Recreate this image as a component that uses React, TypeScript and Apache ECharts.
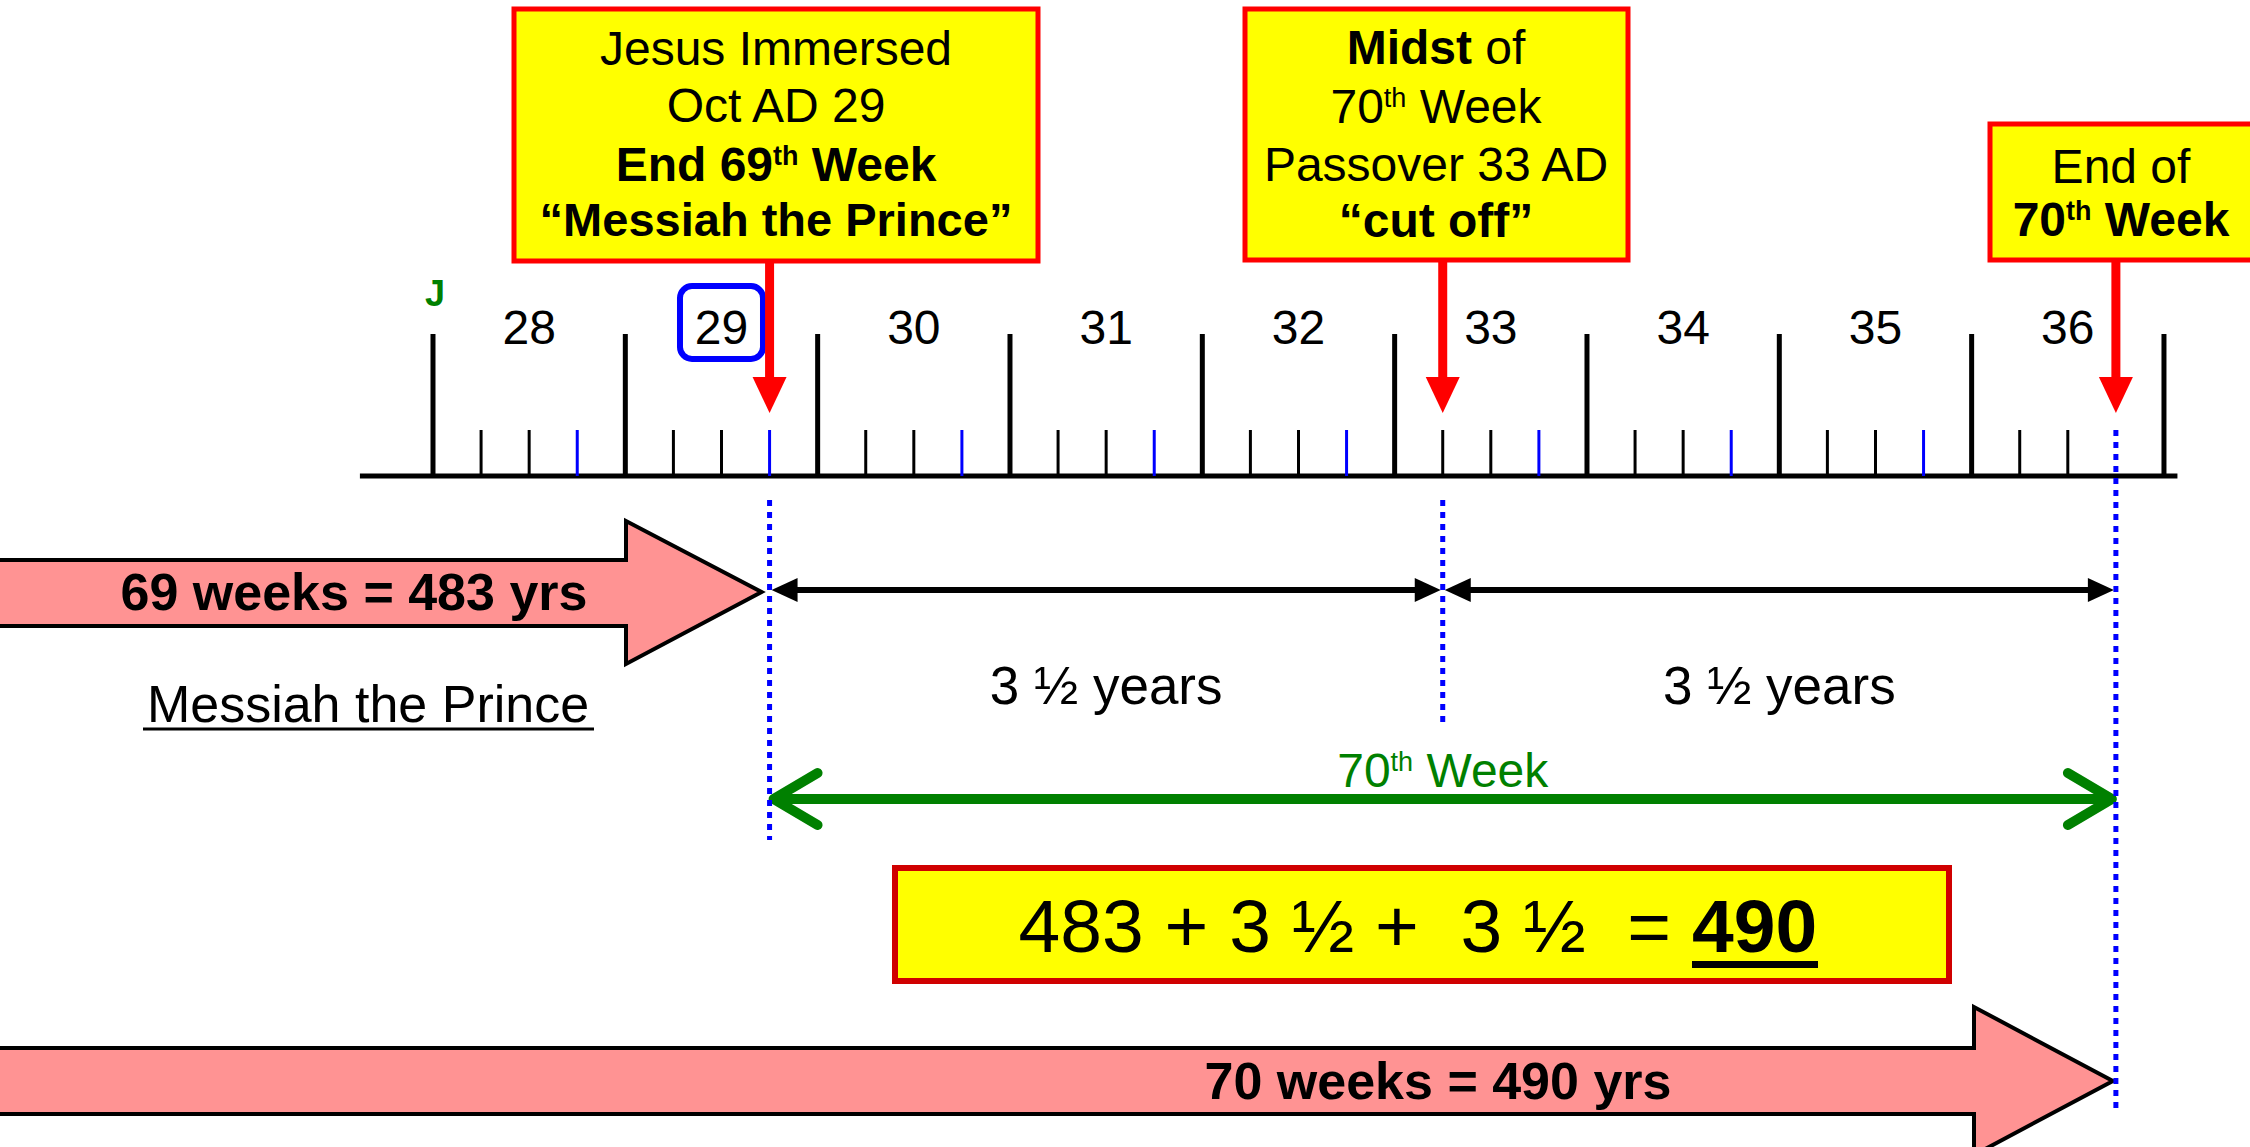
import React, { useEffect, useRef } from 'react';
import * as echarts from 'echarts';

const W = 2250;
const H = 1147;
const FONT = '"Liberation Sans", Arial, Helvetica, sans-serif';

// ---- data ----
const years = [28, 29, 30, 31, 32, 33, 34, 35, 36];
const yearLabels = ['28', '29', '30', '31', '32', '33', '34', '35', '36'];
const lastYearEnd = 37;
const quarterOffsets = [0.25, 0.5, 0.75];
const highlightedYear = 29;
const axisRange = [27.62, 37.07];
const eventYears = [29.75, 33.25, 36.75]; // immersed, midst, end of 70th week
const halfWeekLabel = '3 ½ years';
const weekArrowLabels = ['69 weeks = 483 yrs', '70 weeks = 490 yrs'];
const weekArrowTips = [29.75, 36.75];

// ---- scale ----
const X_MIN = 25.7487;
const X_MAX = 37.4473;
const AXIS_Y = 476;

// tick list: [position, kind] kind 0 = year, 1 = quarter, 2 = blue 3/4 mark
const ticks: number[][] = [];
years.forEach((y) => {
  ticks.push([y, 0]);
  quarterOffsets.forEach((q, i) => {
    const pos = y + q;
    if (eventYears.indexOf(pos) === eventYears.length - 1) return; // replaced by dotted line
    ticks.push([pos, i === quarterOffsets.length - 1 ? 2 : 1]);
  });
});
ticks.push([lastYearEnd, 0]);

// layout (positions only)
const dottedSpans = [[500, 840], [500, 726], [430, 1112]];
const pinkLayout = [
  { top: 560, bottom: 626, headX: 626, headTop: 521, headBottom: 664, tipY: 592, inset: 8, labelX: 354 },
  { top: 1048, bottom: 1114, headX: 1974, headTop: 1007, headBottom: 1155, tipY: 1081, inset: 3, labelX: 1438 },
];

function richStyles(size: number, color: string, supWeight: string) {
  const sup = Math.round(size * 0.56);
  return {
    n: { fontSize: size, fontFamily: FONT, fontWeight: 'normal', fill: color, lineHeight: size + 6 },
    b: { fontSize: size, fontFamily: FONT, fontWeight: 'bold', fill: color, lineHeight: size + 6 },
    s: { fontSize: sup, fontFamily: FONT, fontWeight: supWeight, fill: color, lineHeight: sup, verticalAlign: 'top', padding: [5, 0, 0, 0] },
  };
}

function text(x: number, y: number, t: string, size: number, opts: any = {}) {
  const color = opts.color || '#000';
  const style: any = {
    text: t,
    fontSize: size,
    fontFamily: FONT,
    fontWeight: opts.weight || 'normal',
    fill: color,
    align: opts.align || 'center',
    textAlign: opts.align || 'center',
    verticalAlign: 'middle',
    textVerticalAlign: 'middle',
  };
  if (opts.rich) style.rich = richStyles(size, color, opts.supWeight || 'normal');
  return { type: 'text', x, y, silent: true, style };
}

function box(x: number, y: number, w: number, h: number, stroke = '#FF0000', lw = 5) {
  return { type: 'rect', shape: { x, y, width: w, height: h }, style: { fill: '#FFFF00', stroke, lineWidth: lw }, silent: true };
}

const graphic = [
  // J marker
  text(435, 293, 'J', 36, { weight: 'bold', color: '#008000' }),
  // box 1
  box(514, 9, 524, 252),
  text(776, 48, 'Jesus Immersed', 48),
  text(776, 105, 'Oct AD 29', 48),
  text(776, 164, '{b|End 69}{s|th}{b| Week}', 48, { rich: true, supWeight: 'bold' }),
  text(776, 219, '“Messiah the Prince”', 47, { weight: 'bold' }),
  // box 2
  box(1245, 9, 383, 251),
  text(1436, 47, '{b|Midst}{n| of}', 48, { rich: true }),
  text(1436, 106, '{n|70}{s|th}{n| Week}', 48, { rich: true }),
  text(1436, 164, 'Passover 33 AD', 48),
  text(1436, 220, '“cut off”', 48, { weight: 'bold' }),
  // box 3
  box(1990, 124, 300, 136),
  text(2121, 166, 'End of', 48),
  text(2121, 219, '{b|70}{s|th}{b| Week}', 48, { rich: true, supWeight: 'bold' }),
  // Messiah the Prince
  text(368, 704, 'Messiah the Prince', 52),
  { type: 'line', silent: true, shape: { x1: 143, y1: 729, x2: 594, y2: 729 }, style: { stroke: '#000', lineWidth: 3 } },
  // formula
  box(895, 868, 1054, 113, '#D00000', 6),
  text(1692, 926, '483 + 3 ½ +  3 ½  = ', 75, { align: 'right' }),
  text(1692, 926, '490', 75, { align: 'left', weight: 'bold' }),
  { type: 'rect', silent: true, shape: { x: 1692, y: 961, width: 126, height: 7 }, style: { fill: '#000' } },
];

const option: any = {
  animation: false,
  backgroundColor: '#ffffff',
  grid: { left: 0, right: 0, top: 0, bottom: 0, containLabel: false },
  xAxis: { type: 'value', min: X_MIN, max: X_MAX, show: false },
  yAxis: { type: 'value', min: 0, max: H, inverse: true, show: false },
  tooltip: { show: false },
  graphic,
  series: [
    {
      type: 'custom',
      name: 'axis',
      clip: false,
      silent: true,
      data: [axisRange],
      renderItem: (params: any, api: any) => {
        const a = api.coord([api.value(0), AXIS_Y]);
        const b = api.coord([api.value(1), AXIS_Y]);
        return { type: 'line', shape: { x1: a[0], y1: a[1], x2: b[0], y2: b[1] }, style: { stroke: '#000', lineWidth: 5 } };
      },
    },
    {
      type: 'custom',
      name: 'ticks',
      clip: false,
      silent: true,
      data: ticks,
      renderItem: (params: any, api: any) => {
        const kind = api.value(1);
        const p = api.coord([api.value(0), AXIS_Y]);
        const top = kind === 0 ? 334 : 430;
        return {
          type: 'line',
          shape: { x1: p[0], y1: top, x2: p[0], y2: p[1] },
          style: { stroke: kind === 2 ? '#0000FF' : '#000', lineWidth: kind === 0 ? 5 : 3 },
        };
      },
    },
    {
      type: 'custom',
      name: 'years',
      clip: false,
      silent: true,
      data: years.map((y) => [y]),
      renderItem: (params: any, api: any) => {
        const y = api.value(0);
        const c = api.coord([y + 0.5, 327]);
        const children: any[] = [];
        if (y === highlightedYear) {
          children.push({
            type: 'rect',
            shape: { x: c[0] - 41.5, y: 286, width: 83, height: 73, r: 12 },
            style: { fill: 'none', stroke: '#0000FF', lineWidth: 6 },
          });
        }
        children.push(text(c[0], c[1], yearLabels[params.dataIndex], 48));
        return { type: 'group', children };
      },
    },
    {
      type: 'custom',
      name: 'pinkArrows',
      clip: false,
      silent: true,
      data: weekArrowTips.map((t) => [t]),
      renderItem: (params: any, api: any) => {
        const L = pinkLayout[params.dataIndex];
        const tip = api.coord([api.value(0), L.tipY]);
        const tx = tip[0] - L.inset;
        return {
          type: 'group',
          children: [
            {
              type: 'polygon',
              shape: {
                points: [
                  [-20, L.top], [L.headX, L.top], [L.headX, L.headTop], [tx, tip[1]],
                  [L.headX, L.headBottom], [L.headX, L.bottom], [-20, L.bottom],
                ],
              },
              style: { fill: '#FF9393', stroke: '#000', lineWidth: 4, lineJoin: 'miter' },
            },
            text(L.labelX, L.tipY, weekArrowLabels[params.dataIndex], 52, { weight: 'bold' }),
          ],
        };
      },
    },
    {
      type: 'custom',
      name: 'spans',
      clip: false,
      silent: true,
      data: [
        [eventYears[0], eventYears[1], 0],
        [eventYears[1], eventYears[2], 0],
        [eventYears[0], eventYears[2], 1],
      ],
      renderItem: (params: any, api: any) => {
        const kind = api.value(2);
        const x0 = api.coord([api.value(0), 0])[0];
        const x1 = api.coord([api.value(1), 0])[0];
        const mid = (x0 + x1) / 2;
        if (kind === 0) {
          const y = 590;
          const a = x0 + 2;
          const b = x1 - 2;
          return {
            type: 'group',
            children: [
              { type: 'line', shape: { x1: a + 20, y1: y, x2: b - 20, y2: y }, style: { stroke: '#000', lineWidth: 6 } },
              { type: 'polygon', shape: { points: [[a, y], [a + 26, y - 12], [a + 26, y + 12]] }, style: { fill: '#000' } },
              { type: 'polygon', shape: { points: [[b, y], [b - 26, y - 12], [b - 26, y + 12]] }, style: { fill: '#000' } },
              text(mid, 685, halfWeekLabel, 53),
            ],
          };
        }
        const y = 799;
        const a = x0 + 4;
        const b = x1 - 4;
        return {
          type: 'group',
          children: [
            { type: 'line', shape: { x1: a + 4, y1: y, x2: b - 4, y2: y }, style: { stroke: '#008000', lineWidth: 10 } },
            { type: 'polyline', shape: { points: [[a + 44, y - 26], [a, y], [a + 44, y + 26]] }, style: { stroke: '#008000', lineWidth: 10, lineCap: 'round', lineJoin: 'round', fill: 'none' } },
            { type: 'polyline', shape: { points: [[b - 44, y - 26], [b, y], [b - 44, y + 26]] }, style: { stroke: '#008000', lineWidth: 10, lineCap: 'round', lineJoin: 'round', fill: 'none' } },
            text(mid, 770, '{n|70}{s|th}{n| Week}', 48, { rich: true, color: '#008000' }),
          ],
        };
      },
    },
    {
      type: 'custom',
      name: 'events',
      clip: false,
      silent: true,
      data: eventYears.map((e) => [e]),
      renderItem: (params: any, api: any) => {
        const x = api.coord([api.value(0), 0])[0];
        const span = dottedSpans[params.dataIndex];
        return {
          type: 'group',
          children: [
            { type: 'line', shape: { x1: x, y1: span[0], x2: x, y2: span[1] }, style: { stroke: '#0000FF', lineWidth: 5, lineDash: [6, 6] } },
            { type: 'rect', shape: { x: x - 4.5, y: 262, width: 9, height: 118 }, style: { fill: '#FF0000' } },
            { type: 'polygon', shape: { points: [[x - 17, 377], [x + 17, 377], [x, 413]] }, style: { fill: '#FF0000' } },
          ],
        };
      },
    },
  ],
};

export default function App() {
  const ref = useRef<HTMLDivElement>(null);
  useEffect(() => {
    document.body.style.margin = '0';
    const chart = echarts.init(ref.current as HTMLDivElement, null, { renderer: 'svg', width: W, height: H });
    chart.setOption(option);
    return () => chart.dispose();
  }, []);
  return <div ref={ref} style={{ width: W, height: H, position: 'absolute', left: 0, top: 0 }} />;
}
